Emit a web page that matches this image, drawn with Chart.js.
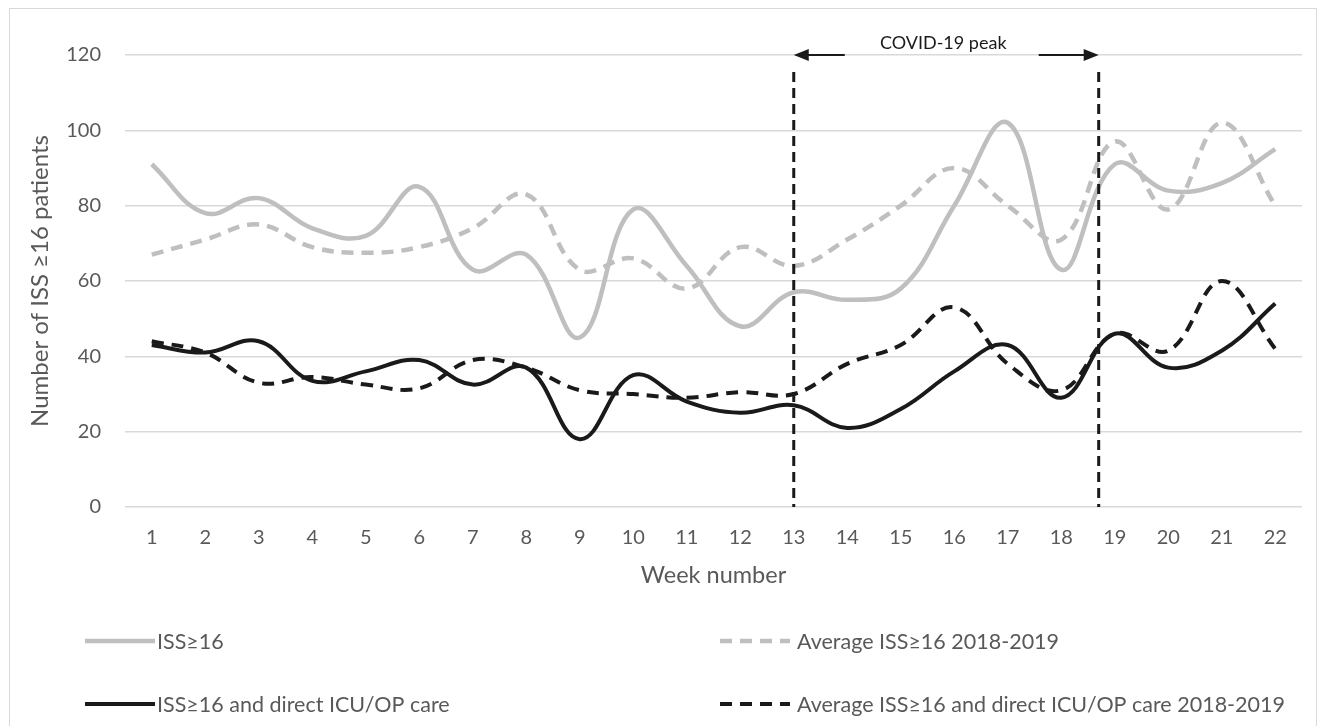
<!DOCTYPE html>
<html><head><meta charset="utf-8">
<script src="https://cdn.jsdelivr.net/npm/chart.js@4.4.1/dist/chart.umd.min.js"></script>
<style>html,body{margin:0;padding:0;background:#fff;} canvas{display:block;}</style>
</head><body>
<canvas id="c" width="1325" height="726"></canvas>
<script>
// ---- data ----
const weeks = ['1','2','3','4','5','6','7','8','9','10','11','12','13','14','15','16','17','18','19','20','21','22'];
const iss16      = [91, 78, 82, 74, 72, 85, 63, 67, 45, 79, 64, 48, 57, 55, 58, 80, 102, 63, 91, 84, 86, 95];
const avgIss16   = [67, 71, 75, 69, 67.5, 69, 74, 83, 63, 66, 58, 69, 64, 71, 80, 90, 80, 71, 97, 79, 102, 80];
const issIcu     = [43, 41, 44, 33.5, 36, 39, 32.5, 37, 18, 35, 28, 25, 27, 21, 26, 36, 43, 29, 46, 37, 41.5, 54];
const avgIssIcu  = [44, 41, 33, 34.5, 32.5, 31.5, 39, 37, 31, 30, 29, 30.5, 30, 38, 43, 53, 38, 31, 46, 41.5, 60, 42];
const seriesNames = ['ISS\u226516', 'Average ISS\u226516 2018-2019', 'ISS\u226516 and direct ICU/OP care', 'Average ISS\u226516 and direct ICU/OP care 2018-2019'];
const yMin = 0, yMax = 120, yStep = 20;
const peakStartWeek = 13, peakEndWeek = 18.7;
const peakLabel = 'COVID-19 peak';
const xTitle = 'Week number';
const yTitle = 'Number of ISS \u226516 patients';

const FONT = 'Lato, "Liberation Sans", sans-serif';
const GRAY = '#bfbfbf', BLACK = '#1a1a1a', TEXT = '#595959';

const bgPlugin = {
  id: 'bg',
  beforeDraw(chart) {
    const c = chart.ctx;
    c.save();
    c.fillStyle = '#fff'; c.fillRect(0, 0, chart.width, chart.height);
    c.strokeStyle = '#d9d9d9'; c.lineWidth = 1;
    c.strokeRect(9.5, 8.5, 1307, 740);
    c.restore();
  }
};

const peakPlugin = {
  id: 'peak',
  afterDatasetsDraw(chart) {
    const c = chart.ctx, xs = chart.scales.x, ys = chart.scales.y;
    const x1 = xs.getPixelForValue(peakStartWeek - 1);
    const x2 = xs.getPixelForValue(peakEndWeek - 1);
    const yb = ys.getPixelForValue(0);
    const yTop = ys.getPixelForValue(120);
    c.save();
    c.strokeStyle = '#1a1a1a'; c.lineWidth = 3; c.setLineDash([10, 6]);
    [x1, x2].forEach(x => { c.beginPath(); c.moveTo(x, yTop + 17); c.lineTo(x, yb); c.stroke(); });
    c.setLineDash([]);
    const ay = yTop;
    c.lineWidth = 2; c.fillStyle = '#1a1a1a';
    c.beginPath(); c.moveTo(x1 + 51, ay); c.lineTo(x1 + 12, ay); c.stroke();
    c.beginPath(); c.moveTo(x1, ay); c.lineTo(x1 + 15, ay - 6); c.lineTo(x1 + 15, ay + 6); c.closePath(); c.fill();
    c.beginPath(); c.moveTo(x2 - 60, ay); c.lineTo(x2 - 12, ay); c.stroke();
    c.beginPath(); c.moveTo(x2, ay); c.lineTo(x2 - 15, ay - 6); c.lineTo(x2 - 15, ay + 6); c.closePath(); c.fill();
    c.font = '18px ' + FONT; c.fillStyle = '#1a1a1a';
    c.textAlign = 'center'; c.textBaseline = 'middle';
    c.fillText(peakLabel, (x1 + x2) / 2 - 3, ay - 12);
    c.restore();
  }
};

const legendPlugin = {
  id: 'customLegend',
  afterDraw(chart) {
    const c = chart.ctx;
    const pos = [[85, 641], [720, 641], [85, 704], [720, 704]];
    c.save();
    c.font = '21.5px ' + FONT; c.textBaseline = 'middle'; c.textAlign = 'left';
    chart.data.datasets.forEach((ds, i) => {
      const [x, y] = pos[i];
      c.strokeStyle = ds.borderColor; c.lineWidth = ds.borderWidth;
      c.setLineDash(ds.borderDash || []);
      c.beginPath(); c.moveTo(x, y); c.lineTo(x + 70, y); c.stroke();
      c.setLineDash([]);
      c.fillStyle = TEXT;
      c.fillText(ds.label, x + (i % 2 ? 77 : 72), y + 1);
    });
    c.restore();
  }
};

new Chart(document.getElementById('c'), {
  type: 'line',
  data: {
    labels: weeks,
    datasets: [
      { label: seriesNames[0], data: iss16, borderColor: GRAY, borderWidth: 4.5, order: 4 },
      { label: seriesNames[1], data: avgIss16, borderColor: GRAY, borderWidth: 4.5, borderDash: [12, 8], order: 3 },
      { label: seriesNames[2], data: issIcu, borderColor: BLACK, borderWidth: 4, order: 2 },
      { label: seriesNames[3], data: avgIssIcu, borderColor: BLACK, borderWidth: 4, borderDash: [12, 8], order: 1 }
    ]
  },
  options: {
    responsive: false,
    animation: false,
    layout: { padding: { left: 0, top: 55, right: 23, bottom: 136 } },
    elements: { point: { radius: 0 }, line: { tension: 0.4, fill: false, borderCapStyle: 'butt' } },
    plugins: { legend: { display: false }, tooltip: { enabled: false } },
    scales: {
      x: {
        offset: true,
        grid: { display: false, drawTicks: false },
        border: { display: false },
        ticks: { color: TEXT, font: { family: FONT, size: 20 }, padding: 19, maxRotation: 0, autoSkip: false },
        title: { display: true, text: xTitle, color: TEXT, font: { family: FONT, size: 23.5 }, padding: 0 },
        afterFit(s) { s.height = 83; }
      },
      y: {
        min: yMin, max: yMax,
        grid: { color: '#d9d9d9', lineWidth: 1.5, drawTicks: false },
        border: { display: false },
        ticks: { stepSize: yStep, color: TEXT, font: { family: FONT, size: 20 }, padding: 24 },
        title: { display: true, text: yTitle, color: TEXT, font: { family: FONT, size: 24 }, padding: { top: 26, bottom: 0 } },
        afterFit(s) { s.width = 125; }
      }
    }
  },
  plugins: [bgPlugin, peakPlugin, legendPlugin]
});
</script>
</body></html>
